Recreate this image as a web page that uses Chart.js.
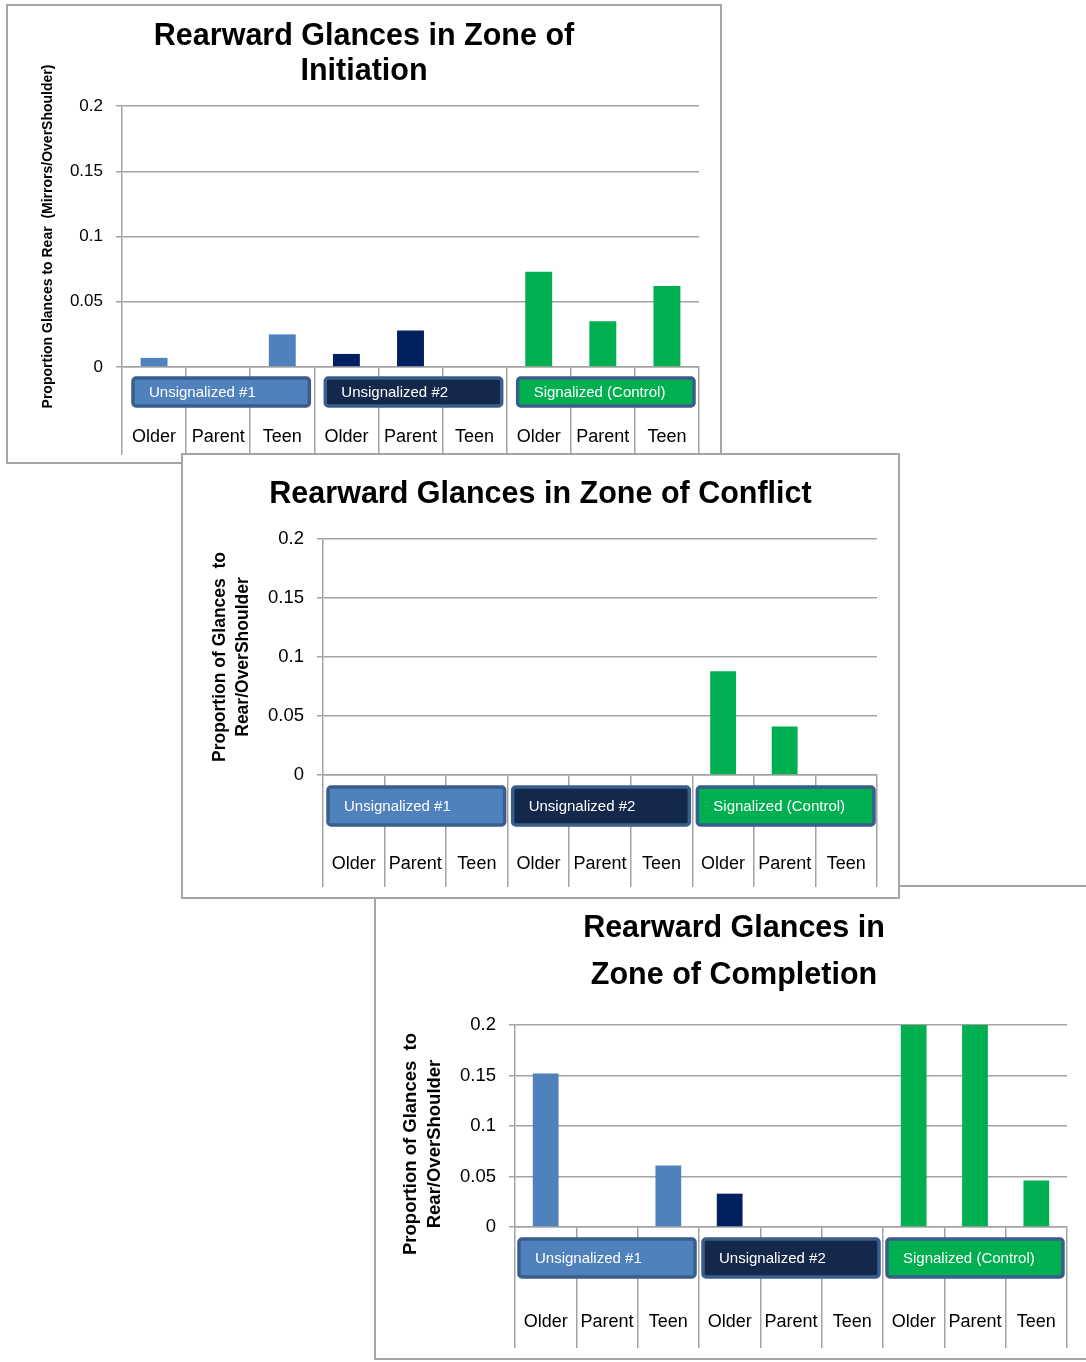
<!DOCTYPE html>
<html>
<head>
<meta charset="utf-8">
<script src="https://cdn.jsdelivr.net/npm/chart.js@4.4.1/dist/chart.umd.min.js"></script>
<style>
  body { margin: 0; background: #fff; width: 1086px; height: 1362px; position: relative; overflow: hidden; }
  .panel { position: absolute; background: #fff; box-shadow: inset 0 0 0 2px #a6a6a6; }
  .panel canvas { position: absolute; left: 0; top: 0; }
</style>
</head>
<body>
<div class="panel" style="left:6px;top:4px;width:716px;height:460px;z-index:1"><canvas id="initiation" width="716" height="460"></canvas></div>
<div class="panel" style="left:374px;top:885px;width:720px;height:475px;z-index:2"><canvas id="completion" width="720" height="475"></canvas></div>
<div class="panel" style="left:181px;top:453px;width:719px;height:446px;z-index:3"><canvas id="conflict" width="719" height="446"></canvas></div>
<script>
const ages = ['Older', 'Parent', 'Teen']
const groups = ['Unsignalized #1', 'Unsignalized #2', 'Signalized (Control)']
const categories = groups.flatMap(() => ages)
const yTicks = [0, 0.05, 0.1, 0.15, 0.2]

// proportion of glances, one value per category (3 ages x 3 sites)
const initiation = [0.007, 0, 0.025, 0.010, 0.028, 0, 0.073, 0.035, 0.062]
const conflict = [0, 0, 0, 0, 0, 0, 0.088, 0.041, 0]
const completion = [0.152, 0, 0.061, 0.033, 0, 0, 0.2, 0.2, 0.046]

const barColors = ['#4f81bd', '#002060', '#00b050']
const boxColors = ['#4f81bd', '#14284b', '#00b050']
const FONT = "'Liberation Sans', Arial, sans-serif"
const GRID = '#a3a3a3'

// boxes with the site name, drawn under the axis over each group of three bars
const groupBoxes = {
  id: 'groupBoxes',
  afterDraw(chart, args, opts) {
    const { ctx } = chart
    const x = chart.scales.x
    const top = x.top + opts.offset
    ctx.save()
    groups.forEach((g, i) => {
      const l = x.getPixelForValue(i * 3 - 0.5) + opts.inset[0]
      const r = x.getPixelForValue(i * 3 + 2.5) - opts.inset[1]
      ctx.beginPath()
      ctx.roundRect(l, top, r - l, opts.height, 3)
      ctx.fillStyle = boxColors[i]
      ctx.fill()
      ctx.lineWidth = 3.5
      ctx.strokeStyle = '#3b5d8c'
      ctx.stroke()
      ctx.fillStyle = '#fff'
      ctx.font = opts.font
      ctx.textAlign = 'left'
      ctx.textBaseline = 'middle'
      ctx.fillText(g, l + 16, top + opts.height / 2 + 1)
    })
    ctx.restore()
  }
}

function renderChart(canvasId, title, values, c) {
  return new Chart(document.getElementById(canvasId), {
    type: 'bar',
    data: {
      labels: categories,
      datasets: [{
        data: values,
        backgroundColor: values.map((v, i) => barColors[Math.floor(i / 3)]),
        barPercentage: 0.42,
        categoryPercentage: 1
      }]
    },
    options: {
      responsive: false,
      animation: false,
      devicePixelRatio: 1,
      layout: { padding: { left: 0, top: 0, right: 0, bottom: c.bottom } },
      plugins: {
        legend: { display: false },
        tooltip: { enabled: false },
        title: {
          display: true,
          text: title,
          color: '#000',
          font: { family: FONT, size: c.titleSize, weight: 'bold', lineHeight: c.titleLH },
          padding: { top: c.titleTop, bottom: c.titleBottom }
        },
        groupBoxes: { offset: c.boxOffset, height: c.boxHeight, inset: c.boxInset, font: c.boxFont }
      },
      scales: {
        x: {
          grid: { offset: true, drawOnChartArea: false, color: GRID, lineWidth: 1.5, tickLength: c.tickLen },
          border: { display: true, color: GRID, width: 1.5 },
          ticks: {
            color: '#000', autoSkip: false, maxRotation: 0, padding: c.xPad,
            font: { family: FONT, size: c.xSize }
          },
          afterFit: s => { s.height = c.tickLen }
        },
        y: {
          min: 0,
          max: 0.2,
          afterBuildTicks: s => { s.ticks = yTicks.map(v => ({ value: v })) },
          grid: { color: GRID, lineWidth: 1.5, tickLength: 6 },
          border: { display: true, color: GRID, width: 1.5 },
          ticks: {
            color: '#000', padding: 13,
            font: { family: FONT, size: c.ySize },
            callback: v => String(+v.toFixed(2))
          },
          title: {
            display: true,
            text: c.yTitle,
            color: '#000',
            font: { family: FONT, size: c.yTitleSize, weight: 'bold', lineHeight: c.yTitleLH },
            padding: { top: c.yTitleTop, bottom: 0 }
          },
          afterFit: s => { s.width = c.yWidth }
        },
        // empty strip on the right so the title stays centred on the whole panel
        side: {
          position: 'right',
          grid: { display: false },
          ticks: { display: false },
          border: { display: false },
          afterFit: s => { s.width = c.right }
        }
      }
    },
    plugins: [groupBoxes]
  })
}

renderChart('initiation', ['Rearward Glances in Zone of', 'Initiation'], initiation, {
  right: 23, bottom: 9, yWidth: 116, tickLen: 88,
  titleSize: 30.5, titleLH: 35 / 30.5, titleTop: 15, titleBottom: 17,
  xSize: 18, ySize: 17, xPad: -28.8,
  yTitle: 'Proportion Glances to Rear  (Mirrors/OverShoulder)', yTitleSize: 14, yTitleLH: 1.2, yTitleTop: 33.6,
  boxOffset: 11, boxHeight: 28, boxInset: [11, 5], boxFont: '15px ' + FONT
})

renderChart('conflict', 'Rearward Glances in Zone of Conflict', conflict, {
  right: 23, bottom: 12, yWidth: 142, tickLen: 112,
  titleSize: 30.5, titleLH: 1.2, titleTop: 23.7, titleBottom: 25.7,
  xSize: 18, ySize: 18.5, xPad: -33.8,
  yTitle: ['Proportion of Glances  to', 'Rear/OverShoulder'], yTitleSize: 17.5, yTitleLH: 23 / 17.5, yTitleTop: 27.5,
  boxOffset: 12, boxHeight: 38, boxInset: [5, 3], boxFont: '15px ' + FONT
})

renderChart('completion', ['Rearward Glances in', 'Zone of Completion'], completion, {
  right: 27, bottom: 12, yWidth: 141, tickLen: 121,
  titleSize: 30.5, titleLH: 47 / 30.5, titleTop: 20.5, titleBottom: 25.5,
  xSize: 18, ySize: 18.5, xPad: -36.8,
  yTitle: ['Proportion of Glances  to       ', 'Rear/OverShoulder       '], yTitleSize: 18.5, yTitleLH: 24 / 18.5, yTitleTop: 25,
  boxOffset: 12, boxHeight: 38, boxInset: [4, 4], boxFont: '15px ' + FONT
})
</script>
</body>
</html>
